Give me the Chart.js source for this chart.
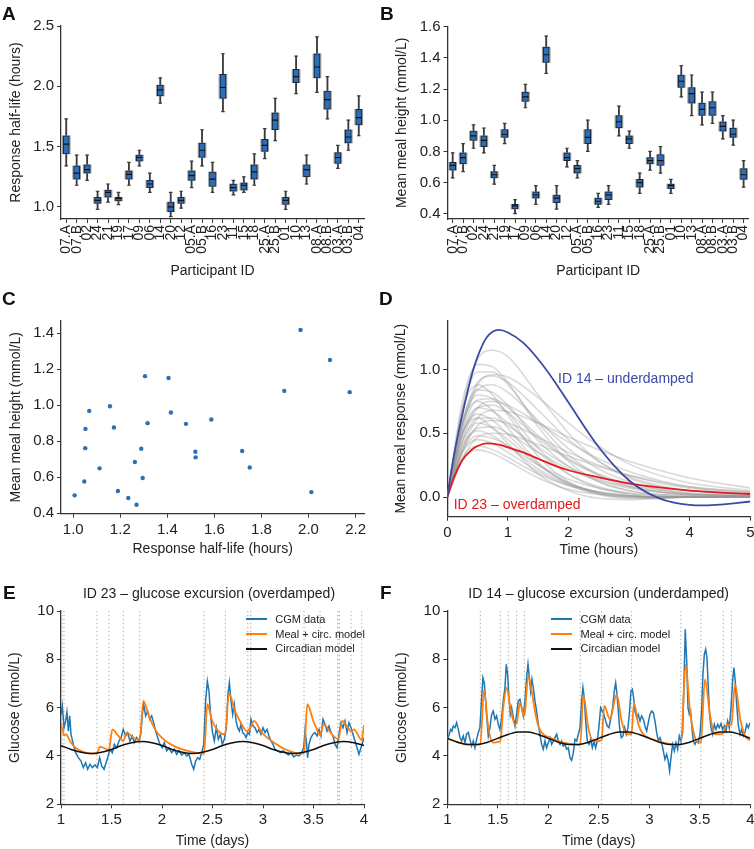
<!DOCTYPE html>
<html>
<head>
<meta charset="utf-8">
<script src="https://cdn.jsdelivr.net/npm/chart.js@4.4.1/dist/chart.umd.min.js"></script>
<style>
  html, body { margin: 0; padding: 0; background: #fff; overflow: hidden; }
  #page { position: relative; width: 754px; height: 849px; font-family: "Liberation Sans", Arial, Helvetica, sans-serif; color: #222; }
  canvas { position: absolute; }
  .letter { position: absolute; font-size: 19px; font-weight: bold; line-height: 19px; color: #111; }
  .ptitle { position: absolute; width: 360px; text-align: center; font-size: 14px; line-height: 16px; }
  .note { position: absolute; font-size: 14px; line-height: 16px; white-space: nowrap; }
  .legend { position: absolute; font-size: 11px; line-height: 14.8px; white-space: nowrap; }
  .legend .sw { display: inline-block; width: 21px; height: 2px; vertical-align: middle; margin-right: 8.6px; position: relative; top: -1px; }
</style>
</head>
<body>
<div id="page">
  <canvas id="chartA" width="377" height="280" style="left:0px; top:0px"></canvas>
  <canvas id="chartB" width="377" height="280" style="left:377px; top:0px"></canvas>
  <canvas id="chartC" width="377" height="258" style="left:0px; top:300px"></canvas>
  <canvas id="chartD" width="377" height="259" style="left:377px; top:300px"></canvas>
  <canvas id="chartE" width="377" height="250" style="left:0px; top:600px"></canvas>
  <canvas id="chartF" width="377" height="250" style="left:377px; top:600px"></canvas>

  <div class="letter" style="left:2px; top:3.5px">A</div>
  <div class="letter" style="left:380px; top:3.5px">B</div>
  <div class="letter" style="left:2px; top:288.5px">C</div>
  <div class="letter" style="left:379px; top:288.5px">D</div>
  <div class="letter" style="left:3px; top:582.5px">E</div>
  <div class="letter" style="left:380px; top:582.5px">F</div>

  <div class="note" style="left:558px; top:369.7px; color:#3b4ba3">ID 14 – underdamped</div>
  <div class="note" style="left:453.7px; top:496px; color:#e41a1c">ID 23 – overdamped</div>

  <div class="ptitle" style="left:29px; top:585.3px">ID 23 – glucose excursion (overdamped)</div>
  <div class="ptitle" style="left:418.7px; top:585.3px">ID 14 – glucose excursion (underdamped)</div>

  <div class="legend" style="left:245.7px; top:611.9px">
    <div><span class="sw" style="background:#1f77b4"></span>CGM data</div>
    <div><span class="sw" style="background:#ff7f0e"></span>Meal + circ. model</div>
    <div><span class="sw" style="background:#111"></span>Circadian model</div>
  </div>
  <div class="legend" style="left:551px; top:611.9px">
    <div><span class="sw" style="background:#1f77b4"></span>CGM data</div>
    <div><span class="sw" style="background:#ff7f0e"></span>Meal + circ. model</div>
    <div><span class="sw" style="background:#111"></span>Circadian model</div>
  </div>
</div>

<script>
// ---- data ----
var participants = ["07.A", "07.B", "02", "24", "21", "19", "17", "09", "06", "14", "20", "12", "05.A", "05.B",
  "16", "23", "11", "15", "18", "25.A", "25.B", "01", "10", "13", "08.A", "08.B", "03.A", "03.B", "04"];

// A: response half-life (hours) box stats
var halfLifeHigh = [1.73, 1.43, 1.43, 1.13, 1.19, 1.12, 1.37, 1.47, 1.28, 2.07, 1.12, 1.13, 1.38, 1.64, 1.37, 2.27, 1.22, 1.25, 1.44, 1.65, 1.90, 1.13, 2.25, 1.43, 2.41, 2.08, 1.51, 1.72, 1.92];
var halfLifeQ3 = [1.59, 1.34, 1.35, 1.08, 1.14, 1.08, 1.30, 1.43, 1.22, 2.01, 1.04, 1.08, 1.30, 1.53, 1.29, 2.10, 1.19, 1.20, 1.35, 1.56, 1.78, 1.08, 2.14, 1.35, 2.27, 1.96, 1.45, 1.64, 1.81];
var halfLifeMed = [1.52, 1.28, 1.31, 1.055, 1.12, 1.07, 1.27, 1.41, 1.19, 1.97, 1.00, 1.055, 1.26, 1.47, 1.23, 1.99, 1.16, 1.18, 1.29, 1.51, 1.72, 1.055, 2.08, 1.31, 2.16, 1.89, 1.41, 1.58, 1.74];
var halfLifeQ1 = [1.44, 1.23, 1.28, 1.03, 1.08, 1.05, 1.23, 1.38, 1.16, 1.92, 0.96, 1.03, 1.22, 1.41, 1.17, 1.90, 1.13, 1.14, 1.23, 1.46, 1.64, 1.02, 2.03, 1.25, 2.07, 1.81, 1.36, 1.53, 1.68];
var halfLifeLow = [1.34, 1.18, 1.22, 0.98, 1.04, 1.02, 1.18, 1.34, 1.12, 1.86, 0.92, 0.99, 1.16, 1.34, 1.12, 1.79, 1.10, 1.12, 1.18, 1.40, 1.55, 0.98, 1.94, 1.19, 1.95, 1.73, 1.32, 1.47, 1.59];

// B: mean meal height (mmol/L) box stats
var heightHigh = [0.79, 0.85, 0.97, 0.95, 0.71, 0.98, 0.49, 1.23, 0.58, 1.54, 0.58, 0.82, 0.74, 1.00, 0.53, 0.58, 1.09, 0.93, 0.66, 0.80, 0.83, 0.62, 1.35, 1.29, 1.18, 1.18, 1.03, 1.00, 0.74];
var heightQ3 = [0.73, 0.79, 0.93, 0.90, 0.67, 0.94, 0.46, 1.18, 0.54, 1.47, 0.52, 0.79, 0.71, 0.94, 0.50, 0.54, 1.03, 0.90, 0.62, 0.76, 0.78, 0.59, 1.29, 1.21, 1.11, 1.12, 0.99, 0.95, 0.69];
var heightMed = [0.71, 0.76, 0.90, 0.87, 0.65, 0.91, 0.45, 1.15, 0.52, 1.42, 0.50, 0.76, 0.69, 0.89, 0.48, 0.52, 0.99, 0.88, 0.60, 0.74, 0.74, 0.58, 1.25, 1.17, 1.07, 1.08, 0.96, 0.91, 0.65];
var heightQ1 = [0.68, 0.72, 0.87, 0.83, 0.63, 0.89, 0.43, 1.12, 0.50, 1.37, 0.47, 0.74, 0.66, 0.85, 0.46, 0.49, 0.95, 0.85, 0.57, 0.72, 0.71, 0.56, 1.21, 1.11, 1.03, 1.03, 0.93, 0.89, 0.62];
var heightLow = [0.63, 0.67, 0.82, 0.79, 0.59, 0.85, 0.40, 1.08, 0.46, 1.30, 0.43, 0.70, 0.63, 0.80, 0.44, 0.46, 0.90, 0.82, 0.53, 0.68, 0.66, 0.53, 1.15, 1.03, 0.97, 0.98, 0.88, 0.84, 0.57];

// C: scatter
var scatterHalfLife = [1.966, 2.091, 2.175, 1.897, 2.012, 1.305, 1.405, 1.156, 1.415, 1.068, 1.052, 1.051, 1.316, 1.173, 1.479, 1.587, 1.289, 1.262, 1.519, 1.520, 1.718, 1.750, 1.112, 1.295, 1.047, 1.190, 1.234, 1.269, 1.006];
var scatterHeight = [1.418, 1.252, 1.073, 1.080, 0.518, 1.162, 1.152, 0.995, 0.960, 0.969, 0.869, 0.762, 0.901, 0.877, 0.897, 0.921, 0.759, 0.685, 0.742, 0.711, 0.746, 0.655, 0.650, 0.596, 0.577, 0.524, 0.485, 0.448, 0.500];

// D: mean meal responses
var responseTimes = [0, 0.25, 0.5, 0.75, 1, 1.5, 2, 2.5, 3, 3.5, 4, 5];
var greyResponses = [
  [0, 0.70, 1.08, 1.15, 1.10, 0.80, 0.50, 0.28, 0.15, 0.08, 0.05, 0.03],
  [0, 0.75, 1.04, 1.02, 0.90, 0.55, 0.28, 0.12, 0.05, 0.02, 0.01, 0.00],
  [0, 0.68, 0.98, 0.98, 0.88, 0.58, 0.33, 0.17, 0.08, 0.04, 0.02, 0.01],
  [0, 0.55, 0.88, 0.96, 0.94, 0.78, 0.58, 0.40, 0.26, 0.17, 0.11, 0.05],
  [0, 0.58, 0.90, 0.95, 0.90, 0.68, 0.45, 0.28, 0.16, 0.09, 0.05, 0.02],
  [0, 0.68, 0.88, 0.80, 0.64, 0.32, 0.12, 0.03, 0.00, -0.01, 0.00, 0.00],
  [0, 0.60, 0.84, 0.82, 0.72, 0.44, 0.24, 0.12, 0.05, 0.02, 0.01, 0.00],
  [0, 0.58, 0.80, 0.77, 0.66, 0.38, 0.18, 0.07, 0.02, 0.00, 0.00, 0.00],
  [0, 0.52, 0.76, 0.77, 0.70, 0.48, 0.30, 0.18, 0.10, 0.06, 0.03, 0.01],
  [0, 0.58, 0.75, 0.68, 0.54, 0.27, 0.10, 0.02, -0.01, -0.01, 0.00, 0.00],
  [0, 0.45, 0.70, 0.75, 0.72, 0.58, 0.43, 0.30, 0.20, 0.13, 0.08, 0.04],
  [0, 0.50, 0.70, 0.67, 0.58, 0.35, 0.18, 0.08, 0.03, 0.01, 0.00, 0.00],
  [0, 0.50, 0.65, 0.60, 0.49, 0.26, 0.11, 0.03, 0.00, 0.00, 0.00, 0.00],
  [0, 0.42, 0.62, 0.62, 0.56, 0.39, 0.24, 0.14, 0.08, 0.04, 0.02, 0.01],
  [0, 0.36, 0.56, 0.60, 0.58, 0.47, 0.35, 0.25, 0.17, 0.11, 0.07, 0.03],
  [0, 0.44, 0.58, 0.54, 0.45, 0.25, 0.11, 0.04, 0.01, 0.00, 0.00, 0.00],
  [0, 0.37, 0.54, 0.55, 0.50, 0.35, 0.22, 0.13, 0.07, 0.04, 0.02, 0.01],
  [0, 0.40, 0.52, 0.48, 0.40, 0.22, 0.10, 0.04, 0.01, 0.00, 0.00, 0.00],
  [0, 0.30, 0.47, 0.50, 0.49, 0.41, 0.32, 0.24, 0.17, 0.12, 0.08, 0.04],
  [0, 0.35, 0.48, 0.46, 0.40, 0.25, 0.14, 0.07, 0.03, 0.01, 0.00, 0.00],
  [0, 0.35, 0.45, 0.42, 0.35, 0.20, 0.09, 0.03, 0.01, 0.00, 0.00, 0.00],
  [0, 0.31, 0.40, 0.37, 0.31, 0.18, 0.09, 0.04, 0.01, 0.00, 0.00, 0.00],
  [0, 0.29, 0.37, 0.34, 0.28, 0.15, 0.06, 0.02, 0.00, 0.00, 0.00, 0.00],
  [0, 0.55, 0.84, 0.88, 0.82, 0.60, 0.38, 0.22, 0.12, 0.06, 0.03, 0.01],
  [0, 0.38, 0.62, 0.68, 0.67, 0.58, 0.47, 0.37, 0.28, 0.21, 0.15, 0.07],
  [0, 0.50, 0.62, 0.54, 0.42, 0.18, 0.05, -0.01, -0.02, -0.01, 0.00, 0.00],
  [0, 0.48, 0.70, 0.72, 0.66, 0.46, 0.29, 0.17, 0.09, 0.05, 0.02, 0.01]
];
var highlightTimes = [0, 0.1, 0.25, 0.4, 0.5, 0.65, 0.85, 1, 1.25, 1.5, 1.75, 2, 2.5, 3, 3.5, 4, 4.25, 4.5, 5];
var id14Response = [0, 0.30, 0.65, 0.95, 1.10, 1.25, 1.31, 1.29, 1.21, 1.08, 0.92, 0.74, 0.39, 0.13, -0.01, -0.062, -0.066, -0.06, -0.035];
var id23Response = [0, 0.14, 0.29, 0.37, 0.40, 0.42, 0.41, 0.39, 0.35, 0.30, 0.25, 0.21, 0.155, 0.108, 0.075, 0.05, 0.042, 0.035, 0.024];

// E: ID 23 glucose
var cgmTimesE = [1.000, 1.013, 1.030, 1.046, 1.059, 1.073, 1.086, 1.099, 1.122, 1.145, 1.172, 1.198, 1.221, 1.244, 1.264, 1.287, 1.310, 1.337, 1.360, 1.383,
  1.403, 1.426, 1.446, 1.462, 1.485, 1.508, 1.528, 1.551, 1.574, 1.594, 1.617, 1.640, 1.660, 1.683, 1.706, 1.726, 1.749, 1.772, 1.792, 1.805,
  1.818, 1.838, 1.858, 1.878, 1.898, 1.917, 1.937, 1.957, 1.980, 2.003, 2.023, 2.046, 2.069, 2.096, 2.122, 2.145, 2.168, 2.195, 2.221, 2.244,
  2.267, 2.294, 2.314, 2.333, 2.353, 2.373, 2.393, 2.413, 2.432, 2.449, 2.465, 2.482, 2.498, 2.518, 2.538, 2.558, 2.578, 2.597, 2.617, 2.637,
  2.653, 2.667, 2.683, 2.700, 2.716, 2.733, 2.749, 2.766, 2.782, 2.799, 2.815, 2.832, 2.848, 2.865, 2.881, 2.901, 2.921, 2.941, 2.960, 2.980,
  3.000, 3.020, 3.040, 3.059, 3.079, 3.099, 3.119, 3.145, 3.172, 3.198, 3.224, 3.251, 3.277, 3.304, 3.330, 3.356, 3.383, 3.403, 3.416, 3.429,
  3.442, 3.455, 3.475, 3.495, 3.515, 3.535, 3.554, 3.574, 3.594, 3.614, 3.634, 3.653, 3.673, 3.693, 3.713, 3.733, 3.752, 3.772, 3.792, 3.812,
  3.832, 3.851, 3.871, 3.891, 3.911, 3.931, 3.950, 3.970, 3.990, 4.000];
var cgmValuesE = [5.72, 6.07, 5.17, 5.45, 5.82, 5.03, 5.66, 4.90, 4.48, 4.14, 3.93, 3.79, 3.52, 3.72, 3.45, 3.66, 3.52, 3.63, 3.52, 3.93,
  3.59, 3.45, 3.72, 3.93, 4.28, 4.14, 4.48, 4.34, 4.62, 4.76, 5.10, 4.83, 4.97, 4.62, 4.83, 4.55, 4.76, 4.62, 4.97, 5.72,
  6.14, 5.66, 5.86, 5.52, 5.66, 5.38, 5.03, 4.76, 4.48, 4.34, 4.55, 4.21, 4.34, 4.14, 4.28, 4.07, 4.23, 4.04, 4.14, 4.00,
  4.07, 3.66, 3.45, 3.79, 3.93, 3.86, 4.14, 4.48, 6.28, 7.10, 6.69, 5.66, 5.03, 4.62, 5.17, 4.69, 4.90, 4.48, 4.69, 5.17,
  6.55, 7.03, 6.28, 5.72, 6.14, 5.45, 5.17, 5.03, 5.31, 4.97, 4.90, 4.76, 4.97, 4.90, 5.52, 5.24, 5.17, 4.97, 5.10, 4.90,
  5.17, 4.97, 5.10, 4.83, 4.62, 4.48, 4.28, 4.21, 4.14, 4.21, 4.14, 4.04, 4.14, 3.96, 4.04, 4.00, 4.14, 4.34, 5.03, 4.62,
  3.93, 4.48, 4.76, 4.90, 4.97, 4.83, 5.10, 4.83, 5.52, 5.31, 5.03, 5.24, 4.97, 4.83, 4.48, 4.34, 4.90, 5.38, 5.17, 5.45,
  4.97, 5.38, 5.17, 4.90, 4.62, 4.34, 4.07, 4.34, 4.62, 4.76];
var modelTimesE = [1.000, 1.030, 1.046, 1.099, 1.145, 1.198, 1.300, 1.356, 1.386, 1.449, 1.475, 1.508, 1.568, 1.617, 1.650, 1.716, 1.779, 1.815,
  1.865, 1.931, 1.997, 2.096, 2.195, 2.327, 2.399, 2.416, 2.449, 2.492, 2.558, 2.624, 2.663, 2.723, 2.789, 2.838, 2.878, 2.911,
  2.987, 3.086, 3.218, 3.383, 3.406, 3.439, 3.498, 3.548, 3.564, 3.601, 3.680, 3.746, 3.785, 3.845, 3.871, 3.900, 3.977, 4.000];
var modelValuesE = [5.34, 4.85, 4.90, 4.55, 4.34, 4.20, 4.10, 4.10, 4.39, 4.28, 4.25, 5.10, 4.83, 4.62, 4.97, 4.76, 4.65, 6.28,
  5.72, 5.10, 4.76, 4.46, 4.28, 4.14, 4.10, 4.10, 6.14, 5.52, 5.03, 4.90, 6.58, 5.86, 5.31, 5.03, 5.20, 5.45,
  4.97, 4.62, 4.28, 4.10, 4.12, 6.14, 5.45, 4.97, 4.85, 5.31, 4.90, 4.69, 5.45, 5.14, 5.00, 5.10, 4.66, 5.28];
var circTimes = [1.0, 1.1, 1.2, 1.3, 1.4, 1.5, 1.6, 1.7, 1.8, 1.9, 2.0, 2.1, 2.2, 2.3, 2.4, 2.5, 2.6, 2.7, 2.8, 2.9,
  3.0, 3.1, 3.2, 3.3, 3.4, 3.5, 3.6, 3.7, 3.8, 3.9, 4.0];
var circValuesE = [4.43, 4.27, 4.15, 4.10, 4.15, 4.27, 4.43, 4.55, 4.60, 4.55, 4.43, 4.27, 4.15, 4.10, 4.15, 4.27, 4.43, 4.55, 4.60, 4.55,
  4.43, 4.27, 4.15, 4.10, 4.15, 4.27, 4.43, 4.55, 4.60, 4.55, 4.43];
var mealTimesE = [1.01, 1.03, 1.356, 1.475, 1.617, 1.779, 2.416, 2.627, 2.849, 2.878, 3.406, 3.564, 3.74, 3.756, 3.871, 3.977];

// F: ID 14 glucose
var cgmTimesF = [1.000, 1.020, 1.033, 1.046, 1.059, 1.076, 1.092, 1.109, 1.125, 1.142, 1.158, 1.175, 1.191, 1.208, 1.224, 1.241, 1.257, 1.274, 1.290, 1.307,
  1.323, 1.340, 1.353, 1.366, 1.380, 1.393, 1.406, 1.422, 1.439, 1.455, 1.472, 1.488, 1.505, 1.521, 1.538, 1.554, 1.571, 1.584, 1.597, 1.611,
  1.624, 1.637, 1.653, 1.670, 1.686, 1.703, 1.719, 1.736, 1.752, 1.769, 1.785, 1.799, 1.812, 1.825, 1.838, 1.851, 1.868, 1.884, 1.901, 1.917,
  1.934, 1.950, 1.967, 1.983, 2.000, 2.017, 2.033, 2.050, 2.066, 2.083, 2.099, 2.116, 2.132, 2.149, 2.165, 2.182, 2.198, 2.215, 2.231, 2.248,
  2.264, 2.281, 2.297, 2.314, 2.330, 2.343, 2.356, 2.370, 2.386, 2.403, 2.419, 2.436, 2.452, 2.469, 2.485, 2.502, 2.518, 2.535, 2.551, 2.568,
  2.584, 2.601, 2.617, 2.637, 2.653, 2.667, 2.680, 2.693, 2.706, 2.723, 2.739, 2.756, 2.772, 2.789, 2.805, 2.818, 2.832, 2.845, 2.858, 2.875,
  2.891, 2.908, 2.924, 2.941, 2.957, 2.974, 2.990, 3.007, 3.023, 3.040, 3.056, 3.073, 3.089, 3.106, 3.122, 3.139, 3.155, 3.172, 3.188, 3.201,
  3.215, 3.231, 3.248, 3.264, 3.281, 3.297, 3.314, 3.330, 3.343, 3.356, 3.370, 3.383, 3.396, 3.409, 3.422, 3.436, 3.452, 3.469, 3.485, 3.502,
  3.518, 3.531, 3.545, 3.558, 3.571, 3.584, 3.597, 3.611, 3.627, 3.644, 3.660, 3.677, 3.693, 3.710, 3.726, 3.743, 3.759, 3.776, 3.792, 3.809,
  3.825, 3.838, 3.851, 3.865, 3.881, 3.898, 3.914, 3.931, 3.947, 3.964, 3.980, 3.997];
var cgmValuesF = [4.69, 4.90, 5.10, 5.03, 5.24, 5.17, 5.38, 5.10, 4.76, 4.62, 4.83, 4.55, 4.90, 4.97, 4.69, 4.41, 4.62, 4.34, 4.69, 4.97,
  5.17, 6.41, 7.24, 7.03, 6.28, 5.45, 4.83, 5.17, 5.72, 5.86, 5.52, 5.66, 5.31, 5.10, 5.59, 6.28, 6.83, 7.79, 7.38, 6.41,
  5.72, 6.00, 5.59, 5.24, 5.72, 6.28, 6.34, 6.00, 5.66, 6.28, 7.24, 7.79, 7.24, 6.69, 7.17, 6.83, 6.28, 5.86, 5.31, 4.90,
  4.48, 4.28, 4.62, 4.34, 4.55, 4.76, 4.48, 4.62, 4.76, 4.90, 4.62, 4.48, 4.62, 4.41, 4.48, 4.28, 4.34, 3.93, 3.82, 4.14,
  4.69, 4.62, 4.90, 5.17, 6.28, 6.83, 6.41, 5.45, 4.62, 4.48, 4.69, 4.34, 4.62, 4.34, 4.62, 5.24, 6.00, 5.86, 5.72, 5.45,
  5.24, 5.17, 5.52, 6.00, 6.69, 7.03, 6.55, 5.86, 5.17, 4.76, 4.83, 5.17, 4.90, 5.17, 5.86, 6.69, 6.76, 6.41, 5.86, 5.59,
  5.72, 5.45, 5.66, 5.52, 5.24, 5.03, 5.38, 5.72, 5.86, 5.79, 5.45, 4.97, 4.62, 4.76, 4.55, 4.21, 3.86, 4.07, 3.79, 3.38,
  3.93, 4.48, 4.21, 4.55, 4.28, 4.83, 4.62, 4.97, 6.97, 9.24, 7.93, 6.00, 5.72, 5.86, 5.17, 4.62, 4.48, 4.62, 4.55, 4.90,
  5.86, 7.38, 8.21, 8.41, 8.07, 6.83, 5.72, 5.17, 4.90, 5.31, 5.10, 5.31, 5.17, 5.34, 5.10, 5.24, 5.03, 5.45, 5.17, 6.00,
  7.10, 7.66, 7.10, 6.14, 5.31, 4.90, 5.10, 4.83, 4.97, 5.31, 5.17, 5.38];
var modelTimesF = [1.000, 1.100, 1.200, 1.300, 1.327, 1.363, 1.406, 1.455, 1.505, 1.525, 1.554, 1.590, 1.620, 1.670, 1.686, 1.720, 1.759, 1.765,
  1.802, 1.835, 1.868, 1.901, 1.950, 2.017, 2.149, 2.316, 2.347, 2.396, 2.446, 2.505, 2.528, 2.554, 2.610, 2.677, 2.726, 2.776,
  2.824, 2.848, 2.891, 2.941, 3.007, 3.139, 3.287, 3.312, 3.360, 3.403, 3.452, 3.485, 3.511, 3.551, 3.600, 3.650, 3.700, 3.732,
  3.766, 3.800, 3.813, 3.848, 3.898, 3.947, 4.000];
var modelValuesF = [4.72, 4.58, 4.48, 4.47, 4.48, 6.72, 5.17, 4.55, 4.58, 4.62, 6.00, 6.83, 6.10, 5.31, 5.35, 6.20, 5.66, 5.70,
  7.31, 6.69, 5.86, 5.24, 4.90, 4.76, 4.55, 4.46, 6.52, 5.17, 4.62, 4.62, 4.66, 6.07, 5.52, 6.55, 5.45, 4.90,
  4.90, 6.20, 5.31, 4.90, 4.73, 4.55, 4.46, 4.47, 7.77, 5.86, 4.76, 4.55, 4.58, 7.17, 5.72, 4.90, 4.90, 4.95,
  5.30, 5.28, 5.30, 6.97, 5.59, 4.83, 4.65];
var circValuesF = [4.73, 4.57, 4.47, 4.47, 4.57, 4.73, 4.89, 4.99, 4.99, 4.89, 4.73, 4.57, 4.47, 4.47, 4.57, 4.73, 4.89, 4.99, 4.99, 4.89,
  4.73, 4.57, 4.47, 4.47, 4.57, 4.73, 4.89, 4.99, 4.99, 4.89, 4.73];
var mealTimesF = [1.327, 1.525, 1.604, 1.686, 1.763, 2.316, 2.528, 2.824, 3.312, 3.511, 3.732, 3.813];

// tick values
var ticksA = [1.0, 1.5, 2.0, 2.5];
var ticksB = [0.4, 0.5, 0.6, 0.7, 0.8, 0.9, 1.0, 1.1, 1.2, 1.3, 1.4, 1.5, 1.6];
var ticksCx = [1.0, 1.2, 1.4, 1.6, 1.8, 2.0, 2.2];
var ticksCy = [0.4, 0.6, 0.8, 1.0, 1.2, 1.4];
var ticksDx = [0, 1, 2, 3, 4, 5];
var ticksDy = [0.0, 0.5, 1.0];
var ticksGlucoseX = [1, 1.5, 2, 2.5, 3, 3.5, 4];
var ticksGlucoseY = [2, 4, 6, 8, 10];

// ---- helpers ----
Chart.defaults.font.family = '"Liberation Sans", Arial, Helvetica, sans-serif';
Chart.defaults.color = "#222";
Chart.defaults.animation = false;
Chart.defaults.events = [];
Chart.defaults.plugins.legend.display = false;
Chart.defaults.plugins.tooltip.enabled = false;

var AXIS = "#333";

function xy(ts, vs) {
  return ts.map(function (t, i) { return { x: t, y: vs[i] }; });
}

function oneDecimal(v) { return Number(v).toFixed(1); }

function yAxis(min, max, ticks, title, width, titlePad, fmt) {
  return {
    type: "linear", position: "left", min: min, max: max,
    afterBuildTicks: function (s) { s.ticks = ticks.map(function (v) { return { value: v }; }); },
    afterFit: function (s) { s.width = width; s.paddingTop = 0; s.paddingBottom = 0; },
    border: { display: true, color: AXIS, width: 1.3 },
    grid: { drawOnChartArea: false, drawTicks: true, tickLength: 4, tickColor: AXIS, tickWidth: 1 },
    ticks: { font: { size: 15 }, padding: 3, color: "#222", callback: fmt },
    title: { display: true, text: title, font: { size: 14 }, color: "#222", padding: { top: titlePad, bottom: 0 } }
  };
}

function xAxis(min, max, ticks, title, height, fmt) {
  return {
    type: "linear", position: "bottom", min: min, max: max,
    afterBuildTicks: function (s) { s.ticks = ticks.map(function (v) { return { value: v }; }); },
    afterFit: function (s) { s.height = height; s.paddingLeft = 0; s.paddingRight = 0; },
    border: { display: true, color: AXIS, width: 1.3 },
    grid: { drawOnChartArea: false, drawTicks: true, tickLength: 4, tickColor: AXIS, tickWidth: 1 },
    ticks: { font: { size: 15 }, padding: 3, color: "#222", maxRotation: 0, callback: fmt },
    title: { display: true, text: title, font: { size: 14 }, color: "#222", padding: { top: 0, bottom: 0 } }
  };
}

function categoryAxis(height) {
  return {
    type: "category", position: "bottom", offset: true,
    afterFit: function (s) { s.height = height; s.paddingLeft = 0; s.paddingRight = 0; },
    border: { display: true, color: AXIS, width: 1.3 },
    grid: { offset: false, drawOnChartArea: false, drawTicks: true, tickLength: 4, tickColor: AXIS, tickWidth: 1 },
    ticks: { autoSkip: false, minRotation: 90, maxRotation: 90, font: { size: 14 }, padding: 2, color: "#222" },
    title: { display: true, text: "Participant ID", font: { size: 14 }, color: "#222", padding: { top: 0, bottom: 0 } }
  };
}

function boxDatasets(low, q1, med, q3, high) {
  var boxes = q1.map(function (v, i) { return [v, q3[i]]; });
  var whiskers = low.map(function (v, i) { return [v, high[i]]; });
  return [
    { type: "bar", data: whiskers, backgroundColor: "#3c3c3c", barThickness: 1.2, grouped: false, order: 5 },
    { type: "bar", data: boxes, backgroundColor: "#9a9a9a", barThickness: 8, grouped: false, order: 4 },
    { type: "bar", data: boxes, backgroundColor: "#2c6fb7", borderColor: "#18263a", borderWidth: 1, borderSkipped: false,
      barThickness: 6, grouped: false, order: 3 },
    { type: "line", data: high, showLine: false, pointStyle: "line", pointRadius: 1.8, pointBorderColor: "#3c3c3c",
      pointBackgroundColor: "#3c3c3c", pointBorderWidth: 1.2, order: 2 },
    { type: "line", data: low, showLine: false, pointStyle: "line", pointRadius: 1.8, pointBorderColor: "#3c3c3c",
      pointBackgroundColor: "#3c3c3c", pointBorderWidth: 1.2, order: 2 },
    { type: "line", data: med, showLine: false, pointStyle: "line", pointRadius: 3, pointBorderColor: "#111",
      pointBackgroundColor: "#111", pointBorderWidth: 1.2, order: 1 }
  ];
}

function mealLines(times) {
  var pts = [];
  times.forEach(function (t) {
    pts.push({ x: t, y: 2 }, { x: t, y: 10 }, { x: t, y: NaN });
  });
  return { data: pts, showLine: true, spanGaps: false, pointRadius: 0, borderColor: "#b8b8b8",
    borderWidth: 1.2, borderDash: [1.5, 2.5], order: 4 };
}

// ---- A ----
new Chart(document.getElementById("chartA"), {
  type: "bar",
  data: { labels: participants, datasets: boxDatasets(halfLifeLow, halfLifeQ1, halfLifeMed, halfLifeQ3, halfLifeHigh) },
  options: {
    responsive: false,
    layout: { padding: { top: 26, right: 13, left: 0, bottom: 0 } },
    scales: {
      x: categoryAxis(61),
      y: yAxis(0.9, 2.5, ticksA, "Response half-life (hours)", 61, 7.3, oneDecimal)
    }
  }
});

// ---- B ----
new Chart(document.getElementById("chartB"), {
  type: "bar",
  data: { labels: participants, datasets: boxDatasets(heightLow, heightQ1, heightMed, heightQ3, heightHigh) },
  options: {
    responsive: false,
    layout: { padding: { top: 26.7, right: 3.5, left: 0, bottom: 0 } },
    scales: {
      x: categoryAxis(61),
      y: yAxis(0.366, 1.6, ticksB, "Mean meal height (mmol/L)", 70.5, 16.6, function (v) {
        return Math.round(v * 10) % 2 === 0 ? Number(v).toFixed(1) : "";
      })
    }
  }
});

// ---- C ----
new Chart(document.getElementById("chartC"), {
  type: "scatter",
  data: {
    datasets: [{ data: xy(scatterHalfLife, scatterHeight), pointRadius: 2.2, pointBackgroundColor: "#2a72b5",
      pointBorderWidth: 0 }]
  },
  options: {
    responsive: false,
    layout: { padding: { top: 20.7, right: 12.7, left: 0, bottom: 0 } },
    scales: {
      x: xAxis(0.948, 2.237, ticksCx, "Response half-life (hours)", 44.3, oneDecimal),
      y: yAxis(0.398, 1.47, ticksCy, "Mean meal height (mmol/L)", 61, 7.3, oneDecimal)
    }
  }
});

// ---- D ----
var dSets = greyResponses.map(function (vals) {
  return { data: xy(responseTimes, vals), showLine: true, pointRadius: 0, borderColor: "rgba(150,150,150,0.35)",
    borderWidth: 1.6, cubicInterpolationMode: "monotone", order: 2 };
});
dSets.push({ data: xy(highlightTimes, id14Response), showLine: true, pointRadius: 0, borderColor: "#3b4ba3",
  borderWidth: 1.8, cubicInterpolationMode: "monotone", order: 0 });
dSets.push({ data: xy(highlightTimes, id23Response), showLine: true, pointRadius: 0, borderColor: "#e41a1c",
  borderWidth: 1.8, cubicInterpolationMode: "monotone", order: 0 });

new Chart(document.getElementById("chartD"), {
  type: "scatter",
  data: { datasets: dSets },
  options: {
    responsive: false,
    layout: { padding: { top: 20.7, right: 3.7, left: 0, bottom: 0 } },
    scales: {
      x: xAxis(0, 5, ticksDx, "Time (hours)", 42.3),
      y: yAxis(-0.154, 1.382, ticksDy, "Mean meal response (mmol/L)", 70.3, 15.9, oneDecimal)
    }
  }
});

// ---- E / F ----
function glucoseChart(id, cgmT, cgmV, modT, modV, circV, meals, yWidth, titlePad, rightPad) {
  new Chart(document.getElementById(id), {
    type: "scatter",
    data: {
      datasets: [
        mealLines(meals),
        { data: xy(cgmT, cgmV), showLine: true, pointRadius: 0, borderColor: "#1f77b4", borderWidth: 1.5, tension: 0, order: 3 },
        { data: xy(modT, modV), showLine: true, pointRadius: 0, borderColor: "#ff7f0e", borderWidth: 1.8,
          cubicInterpolationMode: "monotone", order: 2 },
        { data: xy(circTimes, circV), showLine: true, pointRadius: 0, borderColor: "#111", borderWidth: 1.5,
          cubicInterpolationMode: "monotone", order: 1 }
      ]
    },
    options: {
      responsive: false,
      layout: { padding: { top: 11, right: rightPad, left: 0, bottom: 0 } },
      scales: {
        x: xAxis(1, 4, ticksGlucoseX, "Time (days)", 45.7),
        y: yAxis(2, 10, ticksGlucoseY, "Glucose (mmol/L)", yWidth, titlePad)
      }
    }
  });
}

glucoseChart("chartE", cgmTimesE, cgmValuesE, modelTimesE, modelValuesE, circValuesE, mealTimesE, 61, 6.6, 13);
glucoseChart("chartF", cgmTimesF, cgmValuesF, modelTimesF, modelValuesF, circValuesF, mealTimesF, 70.3, 16.6, 3.7);
</script>
</body>
</html>
